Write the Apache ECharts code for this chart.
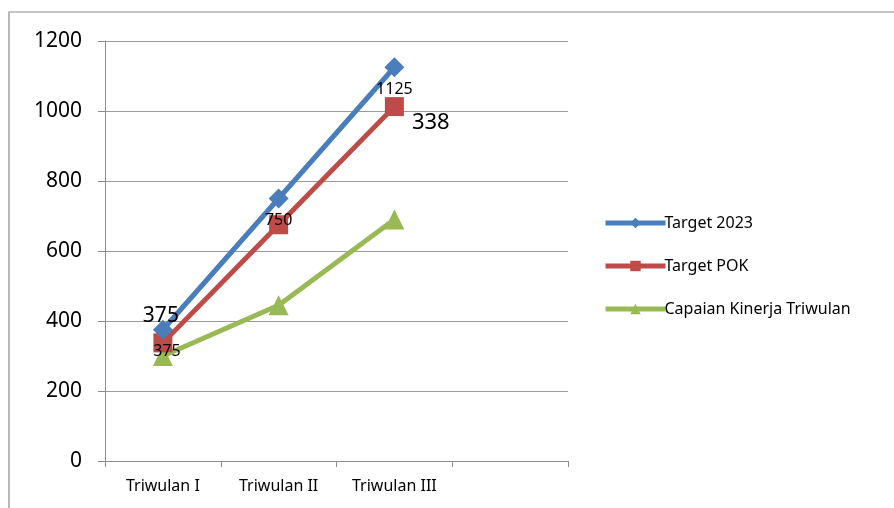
<!DOCTYPE html>
<html><head><meta charset="utf-8">
<script src="https://cdn.jsdelivr.net/npm/echarts@6/dist/echarts.min.js"></script>
<style>html,body{margin:0;padding:0;background:#fff}#c{width:894px;height:508px}</style>
</head><body><div id="c"></div>
<script>
var categories = ['Triwulan I', 'Triwulan II', 'Triwulan III', ''];
var seriesNames = ['Target 2023', 'Target POK', 'Capaian Kinerja Triwulan'];
var target2023 = [375, 750, 1125];
var targetPOK = [337.5, 675, 1012.5];
var capaian = [300, 445, 690];
var yTicks = {min: 0, max: 1200, interval: 200};

var font = '"Noto Sans", "Open Sans", sans-serif';
var chart = echarts.init(document.getElementById('c'));

var blueData = target2023.map(function (v, i) {
  return {value: v, label: {show: true, position: 'bottom', distance: 4, fontSize: 16, color: '#000',
    fontFamily: font, offset: [i === 0 ? 4 : 0, 0]}};
});

var redData = targetPOK.map(function (v, i) {
  var d = {value: v};
  if (i === 2) {
    d.label = {show: true, position: 'right', distance: 8, fontSize: 22, color: '#000', fontFamily: font,
      offset: [0, 16], formatter: function () { return String(Math.round(targetPOK[0])); }};
  }
  return d;
});

var option = {
  animation: false,
  graphic: [{type: 'rect', shape: {x: 9, y: 12, width: 1000, height: 600},
    style: {fill: 'none', stroke: '#8c8c8c', lineWidth: 1.2}, silent: true, z: -10}],
  grid: {left: 105, right: 326, top: 41, bottom: 47},
  legend: {
    orient: 'vertical', left: 598, top: 210, itemGap: 27, itemWidth: 60, itemHeight: 13,
    lineStyle: {width: 5},
    textStyle: {fontSize: 16, color: '#000', fontFamily: font, padding: [0, 0, 0, -6]},
    data: seriesNames
  },
  xAxis: {
    type: 'category', data: categories, boundaryGap: true,
    axisLine: {lineStyle: {color: '#8c8c8c', width: 1}},
    axisTick: {show: true, length: 6, lineStyle: {color: '#8c8c8c'}, alignWithLabel: false},
    axisLabel: {fontSize: 16, color: '#000', fontFamily: font, margin: 17}
  },
  yAxis: {
    type: 'value', min: yTicks.min, max: yTicks.max, interval: yTicks.interval,
    axisLine: {show: true, lineStyle: {color: '#8c8c8c', width: 1}},
    axisTick: {show: true, length: 7, lineStyle: {color: '#8c8c8c'}},
    axisLabel: {fontSize: 21, color: '#000', fontFamily: font, margin: 23,
      formatter: function (v) { return String(v); }},
    splitLine: {lineStyle: {color: '#9a9a9a', width: 1}}
  },
  series: [
    {name: seriesNames[0], type: 'line', data: blueData, symbol: 'diamond', symbolSize: 20,
      lineStyle: {width: 5, color: '#4a7ebb'}, itemStyle: {color: '#4a7ebb'}, z: 3,
      markPoint: {symbol: 'circle', symbolSize: 0, silent: true,
        label: {show: true, fontSize: 21, color: '#000', fontFamily: font, offset: [-2, -14],
          formatter: function () { return String(target2023[0]); }},
        data: [{coord: [0, target2023[0]]}]}},
    {name: seriesNames[1], type: 'line', data: redData, symbol: 'rect', symbolSize: 19,
      lineStyle: {width: 5, color: '#be4b48'}, itemStyle: {color: '#be4b48'}, z: 2},
    {name: seriesNames[2], type: 'line', data: capaian, symbol: 'triangle', symbolSize: 20,
      lineStyle: {width: 5, color: '#98b954'}, itemStyle: {color: '#98b954'}, z: 1}
  ]
};
chart.setOption(option);
</script>
</body></html>
